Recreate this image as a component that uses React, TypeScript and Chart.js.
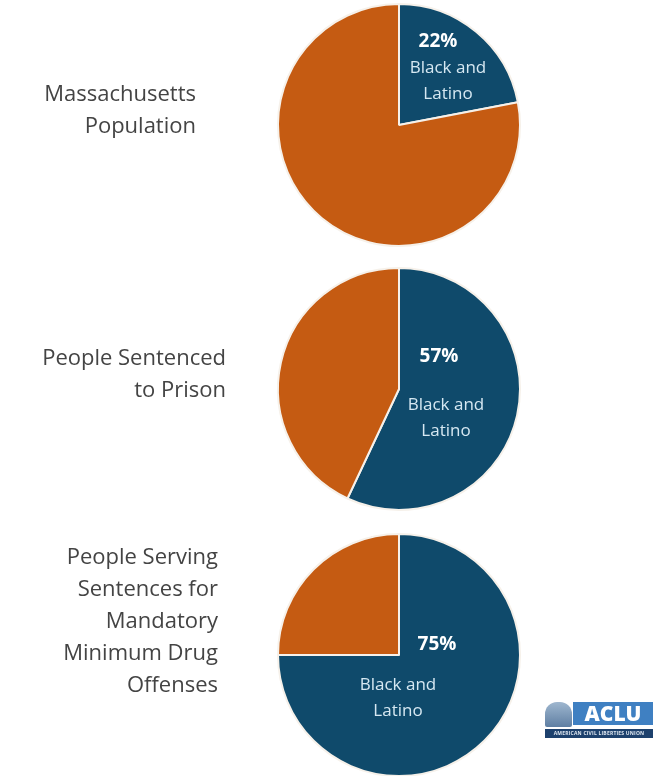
import React, { useEffect, useRef } from "react";
import { Chart, registerables } from "chart.js";

Chart.register(...registerables);

// ---- data ----
const groups = ["Black and Latino", "Other"];
const titles = [
  ["Massachusetts", "Population"],
  ["People Sentenced", "to Prison"],
  ["People Serving", "Sentences for", "Mandatory", "Minimum Drug", "Offenses"],
];
const populationShare = [22, 78];
const prisonShare = [57, 43];
const mandatoryShare = [75, 25];
const seriesList = [populationShare, prisonShare, mandatoryShare];
const percentLabels = ["22%", "57%", "75%"];
const sliceLabelLines = ["Black and", "Latino"];

// ---- layout / style (not data) ----
const BLUE = "#0f4a6b";
const ORANGE = "#c55b12";
const centersY = [125, 389, 655];
const RADIUS = 122;
const CENTER_X = 399;
const CANVAS_H = 270;
// offsets of labels relative to the pie centre: [pctDx, pctDy, textDx, textDy]
const labelOffsets = [
  [39, -83, 49, -57],
  [40, -32, 47, 16],
  [38, -10, -1, 30],
];
const titleRight = [196, 226, 218];
const titleCenterY = [108, 372, 619];
const TITLE_LINE_H = 32;
const FONT = "'Open Sans', sans-serif";

function PieRow({ index }: { index: number }) {
  const ref = useRef<HTMLCanvasElement | null>(null);
  useEffect(() => {
    if (!ref.current) return;
    const off = labelOffsets[index];
    const labelPlugin = {
      id: "sliceLabels",
      afterDatasetsDraw(chart: any) {
        const arc = chart.getDatasetMeta(0).data[0];
        const cx = arc.x;
        const cy = arc.y;
        const ctx = chart.ctx;
        ctx.save();
        ctx.textAlign = "center";
        ctx.textBaseline = "middle";
        ctx.fillStyle = "#ffffff";
        ctx.font = "bold 19px 'Open Sans'";
        ctx.fillText(percentLabels[index], cx + off[0], cy + off[1]);
        ctx.fillStyle = "#d6e8f2";
        ctx.font = "17px 'Open Sans'";
        sliceLabelLines.forEach((t, i) => {
          ctx.fillText(t, cx + off[2], cy + off[3] + i * 26);
        });
        ctx.restore();
      },
    };
    const padTop = (CANVAS_H - 2 * RADIUS) / 2;
    const chart = new Chart(ref.current, {
      type: "pie",
      data: {
        labels: groups,
        datasets: [
          {
            data: seriesList[index],
            backgroundColor: [BLUE, ORANGE],
            borderColor: "#f6f1ea",
            borderWidth: 2,
          },
        ],
      },
      options: {
        responsive: false,
        animation: false,
        layout: {
          padding: {
            top: padTop,
            bottom: padTop,
            left: CENTER_X - RADIUS,
            right: 664 - CENTER_X - RADIUS,
          },
        },
        plugins: {
          legend: { display: false },
          tooltip: { enabled: false },
        },
      },
      plugins: [labelPlugin],
    });
    return () => chart.destroy();
  }, [index]);

  const top = centersY[index] - CANVAS_H / 2;
  const lines = titles[index];
  const blockTop = titleCenterY[index] - (lines.length * TITLE_LINE_H) / 2;
  return (
    <>
      <canvas
        ref={ref}
        width={664}
        height={CANVAS_H}
        style={{ position: "absolute", left: 0, top, width: 664, height: CANVAS_H }}
      />
      <div
        style={{
          position: "absolute",
          left: 0,
          width: titleRight[index],
          top: blockTop,
          textAlign: "right",
          fontFamily: FONT,
          fontSize: 22,
          lineHeight: TITLE_LINE_H + "px",
          color: "#444444",
        }}
      >
        {lines.map((l, i) => (
          <div key={i}>{l}</div>
        ))}
      </div>
    </>
  );
}

function Logo() {
  return (
    <div style={{ position: "absolute", left: 545, top: 700, width: 108, height: 40 }}>
      <div
        style={{
          position: "absolute",
          left: 0,
          top: 2,
          width: 27,
          height: 25,
          background: "linear-gradient(180deg,#9fb7cf,#5f7fa3)",
          borderRadius: "12px 12px 2px 2px",
        }}
      />
      <div
        style={{
          position: "absolute",
          left: 28,
          top: 2,
          width: 80,
          height: 23,
          background: "#3f80c2",
          color: "#fff",
          fontFamily: FONT,
          fontWeight: 800,
          fontSize: 21,
          lineHeight: "23px",
          textAlign: "center",
        }}
      >
        ACLU
      </div>
      <div
        style={{
          position: "absolute",
          left: 0,
          top: 29,
          width: 108,
          height: 9,
          background: "#1d416d",
          color: "#dfe8f2",
          fontFamily: FONT,
          fontSize: 5,
          lineHeight: "9px",
          textAlign: "center",
          letterSpacing: 0.2,
          fontWeight: 700,
          whiteSpace: "nowrap",
        }}
      >
        AMERICAN CIVIL LIBERTIES UNION
      </div>
    </div>
  );
}

export default function App() {
  return (
    <div
      style={{
        position: "absolute",
        left: 0,
        top: 0,
        width: 664,
        height: 776,
        overflow: "hidden",
        background: "#ffffff",
      }}
    >
      <PieRow index={0} />
      <PieRow index={1} />
      <PieRow index={2} />
      <Logo />
    </div>
  );
}
